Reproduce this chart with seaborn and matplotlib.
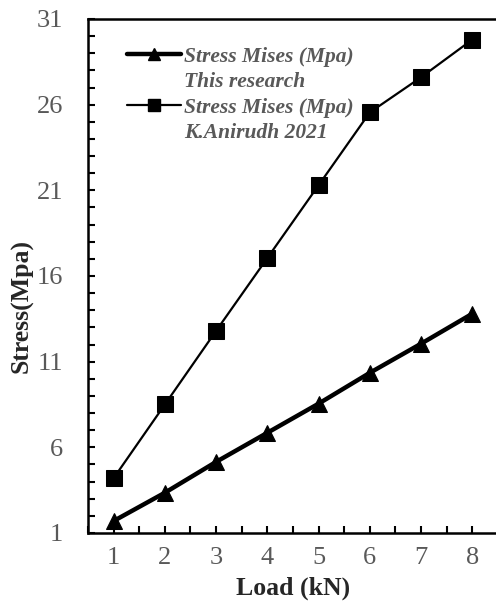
import numpy as np
import pandas as pd
import matplotlib
matplotlib.use("Agg")
import matplotlib.pyplot as plt
from matplotlib.lines import Line2D
from matplotlib.ticker import MultipleLocator
import seaborn as sns

# data
load = [1, 2, 3, 4, 5, 6, 7, 8]
stress_this = [1.7, 3.35, 5.15, 6.85, 8.55, 10.35, 12.05, 13.8]
stress_anirudh = [4.2, 8.5, 12.8, 17.05, 21.3, 25.55, 27.6, 29.8]
y_ticks = [1, 6, 11, 16, 21, 26, 31]
label_this = ["Stress Mises (Mpa)", "This research"]
label_anirudh = ["Stress Mises (Mpa)", "K.Anirudh 2021"]

sns.set_style("white")
plt.rcParams["font.family"] = ["Liberation Serif", "DejaVu Serif"]

fig = plt.figure(figsize=(4.96, 6.03), dpi=100)
ax = fig.add_axes([0.1774, 0.1161, 0.8266, 0.8524])

sns.lineplot(x=load, y=stress_this, ax=ax, color="black", linewidth=3.2,
             marker="^", markersize=11, markeredgecolor="black")
sns.lineplot(x=load, y=stress_anirudh, ax=ax, color="black", linewidth=1.6,
             marker="s", markersize=11, markeredgecolor="black")

ax.set_xlim(0.5, 8.5)
ax.set_ylim(1, 31)
ax.xaxis.set_major_locator(MultipleLocator(1))
ax.xaxis.set_minor_locator(MultipleLocator(0.5))
ax.set_yticks(y_ticks)
ax.yaxis.set_minor_locator(MultipleLocator(1))
ax.tick_params(which="both", direction="in", length=5, width=1.5, color="black",
               bottom=True, left=True, top=False, right=False)
ax.tick_params(which="major", labelsize=19, labelcolor="#595959", pad=10)
ax.tick_params(axis="y", which="major", pad=18)

for side in ["left", "bottom", "top", "right"]:
    ax.spines[side].set_linewidth(1.8)
    ax.spines[side].set_color("black")

ax.set_xlabel("Load (kN)", fontsize=18.5, fontweight="bold")
ax.set_ylabel("Stress(Mpa)", fontsize=18.5, fontweight="bold")
ax.xaxis.set_label_coords(0.5, -0.107)
ax.xaxis.label.set_va("center")
ax.yaxis.set_label_coords(-0.161, 0.442)
ax.yaxis.label.set_va("center")

# legend: handle on the first line of each two-line label
blank = Line2D([], [], alpha=0)
h_this = Line2D([], [], color="black", linewidth=3.2, marker="^", markersize=8)
h_anirudh = Line2D([], [], color="black", linewidth=1.6, marker="s", markersize=8)
handles = [h_this, blank, h_anirudh, blank]
labels = label_this + label_anirudh
leg = ax.legend(handles, labels, loc="upper left", bbox_to_anchor=(0.095, 0.946),
                frameon=False, borderpad=0, borderaxespad=0,
                handlelength=2.5, handletextpad=0.15, labelspacing=0.25,
                prop={"size": 15.5, "weight": "bold", "style": "italic"})
for t in leg.get_texts():
    t.set_color("#595959")

fig.savefig("out.png", dpi=100)
